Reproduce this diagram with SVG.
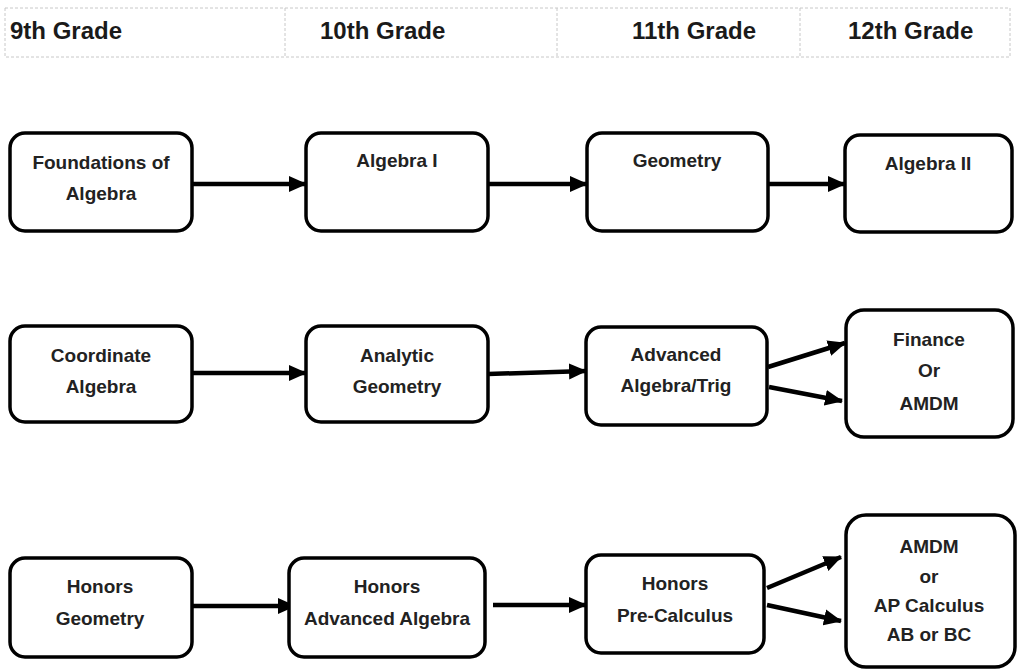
<svg xmlns="http://www.w3.org/2000/svg" width="1021" height="670" viewBox="0 0 1021 670">
<style>
.hdr{font-family:"Liberation Sans",Arial,sans-serif;font-weight:bold;font-size:24px;fill:#1a1a1a}
.grid{fill:none;stroke:#c8c8c8;stroke-width:1;stroke-dasharray:3 2}
.box{fill:#fff;stroke:#000;stroke-width:3.5}
.lbl{font-family:"Liberation Sans",Arial,sans-serif;font-weight:bold;font-size:19px;fill:#222;text-anchor:middle}
.con{stroke:#000;stroke-width:4.5;fill:none}
</style>
<defs>
<marker id="ah" markerUnits="userSpaceOnUse" markerWidth="18" markerHeight="18" viewBox="0 0 18 18" refX="17" refY="9" orient="auto">
<polygon points="0,1 18,9 0,17" fill="#000"/>
</marker>
</defs>
<rect width="1021" height="670" fill="#fff"/>
<g id="header">
<rect class="grid" x="5" y="8" width="1005" height="49"/>
<line class="grid" x1="285" y1="8" x2="285" y2="57"/>
<line class="grid" x1="557" y1="8" x2="557" y2="57"/>
<line class="grid" x1="800" y1="8" x2="800" y2="57"/>
<text class="hdr" x="10" y="39">9th Grade</text>
<text class="hdr" x="320" y="39">10th Grade</text>
<text class="hdr" x="632" y="39">11th Grade</text>
<text class="hdr" x="848" y="39">12th Grade</text>
</g>
<g id="connectors">
<line class="con" x1="192" y1="184" x2="306" y2="184" marker-end="url(#ah)"/>
<line class="con" x1="488" y1="184" x2="587" y2="184" marker-end="url(#ah)"/>
<line class="con" x1="768" y1="184" x2="845" y2="184" marker-end="url(#ah)"/>
<line class="con" x1="192" y1="373" x2="306" y2="373" marker-end="url(#ah)"/>
<line class="con" x1="488" y1="374" x2="586" y2="371" marker-end="url(#ah)"/>
<line class="con" x1="768" y1="367" x2="845" y2="343" marker-end="url(#ah)"/>
<line class="con" x1="769" y1="387" x2="842" y2="401" marker-end="url(#ah)"/>
<line class="con" x1="187" y1="606" x2="295" y2="606" marker-end="url(#ah)"/>
<line class="con" x1="493" y1="605" x2="586" y2="605" marker-end="url(#ah)"/>
<line class="con" x1="767" y1="588" x2="841" y2="557" marker-end="url(#ah)"/>
<line class="con" x1="767" y1="605" x2="841" y2="621" marker-end="url(#ah)"/>
</g>
<g id="n-foundations">
<rect class="box" x="10" y="133" width="182" height="98" rx="15"/>
<text class="lbl" x="101" y="169">Foundations of</text>
<text class="lbl" x="101" y="200">Algebra</text>
</g>
<g id="n-algebra1">
<rect class="box" x="306" y="133" width="182" height="98" rx="15"/>
<text class="lbl" x="397" y="167">Algebra I</text>
</g>
<g id="n-geometry">
<rect class="box" x="587" y="133" width="181" height="98" rx="15"/>
<text class="lbl" x="677" y="167">Geometry</text>
</g>
<g id="n-algebra2">
<rect class="box" x="845" y="135" width="167" height="97" rx="15"/>
<text class="lbl" x="928" y="170">Algebra II</text>
</g>
<g id="n-coordinate">
<rect class="box" x="10" y="326" width="182" height="96" rx="15"/>
<text class="lbl" x="101" y="362">Coordinate</text>
<text class="lbl" x="101" y="393">Algebra</text>
</g>
<g id="n-analytic">
<rect class="box" x="306" y="326" width="182" height="96" rx="15"/>
<text class="lbl" x="397" y="362">Analytic</text>
<text class="lbl" x="397" y="393">Geometry</text>
</g>
<g id="n-advanced">
<rect class="box" x="586" y="327" width="181" height="98" rx="15"/>
<text class="lbl" x="676" y="361">Advanced</text>
<text class="lbl" x="676" y="392">Algebra/Trig</text>
</g>
<g id="n-finance">
<rect class="box" x="846" y="310" width="167" height="127" rx="18"/>
<text class="lbl" x="929" y="346">Finance</text>
<text class="lbl" x="929" y="377">Or</text>
<text class="lbl" x="929" y="410">AMDM</text>
</g>
<g id="n-hgeometry">
<rect class="box" x="10" y="558" width="182" height="99" rx="15"/>
<text class="lbl" x="100" y="593">Honors</text>
<text class="lbl" x="100" y="625">Geometry</text>
</g>
<g id="n-hadvalg">
<rect class="box" x="289" y="558" width="196" height="99" rx="15"/>
<text class="lbl" x="387" y="593">Honors</text>
<text class="lbl" x="387" y="625">Advanced Algebra</text>
</g>
<g id="n-hprecalc">
<rect class="box" x="586" y="555" width="178" height="98" rx="15"/>
<text class="lbl" x="675" y="590">Honors</text>
<text class="lbl" x="675" y="622">Pre-Calculus</text>
</g>
<g id="n-apcalc">
<rect class="box" x="846" y="515" width="169" height="152" rx="20"/>
<text class="lbl" x="929" y="553">AMDM</text>
<text class="lbl" x="929" y="583">or</text>
<text class="lbl" x="929" y="612">AP Calculus</text>
<text class="lbl" x="929" y="641">AB or BC</text>
</g>
</svg>
